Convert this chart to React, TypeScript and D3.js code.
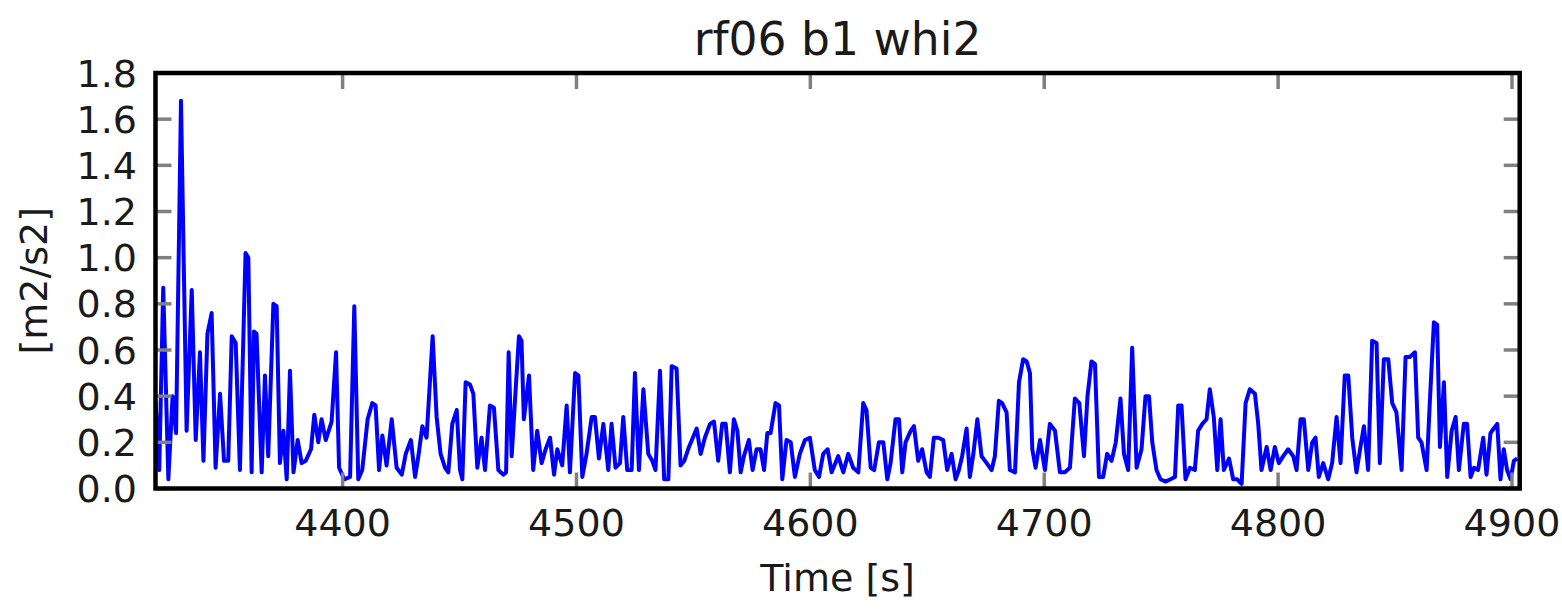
import React from "react";
import * as d3 from "d3";

const title = "rf06 b1 whi2";
const xLabel = "Time [s]";
const yLabel = "[m2/s2]";
const xDomain: [number, number] = [4320, 4903.3];
const yDomain: [number, number] = [0, 1.8];
const xTicks = [4400, 4500, 4600, 4700, 4800, 4900];
const yTicks = [0, 0.2, 0.4, 0.6, 0.8, 1.0, 1.2, 1.4, 1.6, 1.8];

const times = [
  4320, 4321.6, 4323.3, 4325.5, 4327.3, 4328.8, 4330.9, 4333.3, 4335.5, 4337.2, 4339.0, 4340.5, 4342.2, 4344.0, 4345.7, 4347.6, 4349.3, 4351.1, 4352.6, 4354.3, 4356.1, 4358.5, 4359.7, 4361.1, 4362.1, 4363.2, 4365.4, 4366.8, 4368.2, 4370.4, 4371.8, 4373.2, 4374.7, 4376.1,
  4377.5, 4379.0, 4380.8, 4382.5, 4384.2, 4386.5, 4387.9, 4389.6, 4391.0, 4392.8, 4395.3, 4397.2, 4398.5, 4400.7, 4403.2, 4405.0, 4406.7, 4408.4, 4410.7, 4412.7, 4414.1, 4415.6, 4417.0, 4418.8, 4421.0, 4423.1, 4425.3, 4427.0, 4429.2, 4431.0, 4432.4, 4434.1,
  4435.9, 4438.5, 4440.2, 4441.9, 4443.8, 4445.2, 4446.9, 4448.8, 4450.2, 4451.2, 4452.6, 4454.5, 4455.9, 4457.6, 4459.4, 4460.9, 4463.0, 4464.7, 4466.6, 4468.7, 4469.9, 4471.0, 4472.3, 4473.7, 4475.4, 4476.5, 4477.5, 4479.7, 4481.5, 4483.2, 4485.1, 4486.8, 4488.7, 4490.4, 4491.8,
  4493.9, 4495.8, 4497.2, 4499.4, 4500.8, 4502.5, 4504.3, 4506.5, 4507.9, 4509.6, 4511.5, 4513.6, 4515.0, 4516.7, 4518.6, 4520.0, 4521.7, 4523.6, 4525.0, 4526.7, 4528.6, 4530.7, 4532.4, 4533.8, 4535.7, 4537.5, 4539.3, 4540.7, 4542.8, 4544.5, 4546.1, 4548.1,
  4551.4, 4553.1, 4554.9, 4557.1, 4558.8, 4560.6, 4562.3, 4563.8, 4565.6, 4567.3, 4568.8, 4570.2, 4571.6, 4573.7, 4575.3, 4577.0, 4578.7, 4580.2, 4581.6, 4583.0, 4585.1, 4586.6, 4588.0, 4589.8, 4591.6, 4593.4, 4595.5, 4597.7, 4599.8, 4601.9, 4603.7, 4605.5,
  4607.4, 4609.1, 4611.9, 4614.1, 4616.2, 4618.3, 4620.5, 4622.6, 4624.0, 4625.8, 4627.3, 4629.3, 4631.2, 4632.9, 4634.3, 4636.4, 4637.9, 4639.3, 4640.7, 4642.9, 4644.3, 4646.1, 4647.8, 4649.7, 4651.1, 4652.8, 4654.7, 4656.8, 4658.5, 4660.4, 4662.1, 4663.5, 4664.9,
  4666.8, 4668.2, 4669.7, 4671.4, 4673.2, 4675.4, 4677.5, 4678.9, 4680.6, 4682.0, 4683.9, 4685.3, 4687.5, 4689.2, 4691.0, 4692.5, 4693.9, 4694.9, 4696.3, 4698.2, 4700.3, 4702.4, 4704.6, 4706.7, 4708.8, 4711.0, 4713.1, 4715.0, 4717.0, 4718.5, 4720.2, 4721.7,
  4723.4, 4725.2, 4726.9, 4728.8, 4730.6, 4732.6, 4734.1, 4735.9, 4737.6, 4739.5, 4741.6, 4743.3, 4744.8, 4746.2, 4748.0, 4749.7, 4751.9, 4754.0, 4755.9, 4757.3, 4758.7, 4760.4, 4762.3, 4764.4, 4765.8, 4767.6, 4769.4, 4770.8, 4772.5, 4774.0, 4775.4, 4776.8, 4779.0, 4780.8,
  4782.5, 4784.4, 4786.1, 4787.9, 4790.1, 4791.5, 4792.9, 4795.1, 4796.8, 4798.6, 4800.3, 4802.2, 4804.3, 4806.5, 4807.9, 4809.6, 4811.0, 4812.9, 4814.6, 4816.0, 4817.4, 4819.3, 4821.4, 4823.1, 4825.0, 4826.7, 4828.5, 4830.0, 4831.7, 4833.5, 4835.2, 4836.7,
  4838.5, 4840.2, 4842.1, 4843.5, 4845.2, 4847.1, 4848.8, 4850.6, 4852.8, 4854.5, 4856.3, 4858.5, 4859.9, 4861.3, 4863.5, 4864.9, 4866.6, 4868.0, 4869.2, 4870.9, 4872.3, 4874.2, 4875.9, 4877.3, 4879.4, 4880.8, 4882.3, 4883.8, 4885.5, 4887.7, 4889.1, 4890.8, 4892.2, 4893.7, 4895.1, 4896.5, 4897.9, 4899.4, 4900.8, 4902.2,
];

const whi2 = [
  0.38, 0.08, 0.87, 0.04, 0.40, 0.24, 1.68, 0.25, 0.86, 0.21, 0.59, 0.12, 0.67, 0.76, 0.09, 0.41, 0.12, 0.12, 0.66, 0.63, 0.08, 1.02, 1.00, 0.07, 0.68, 0.67, 0.07, 0.49, 0.14, 0.80, 0.79, 0.11, 0.25, 0.04,
  0.51, 0.07, 0.21, 0.11, 0.12, 0.17, 0.32, 0.20, 0.30, 0.21, 0.29, 0.59, 0.09, 0.04, 0.05, 0.79, 0.04, 0.08, 0.30, 0.37, 0.36, 0.08, 0.23, 0.10, 0.30, 0.09, 0.06, 0.15, 0.21, 0.05, 0.14, 0.27,
  0.22, 0.66, 0.31, 0.15, 0.09, 0.07, 0.28, 0.34, 0.08, 0.04, 0.46, 0.45, 0.41, 0.09, 0.22, 0.08, 0.36, 0.35, 0.08, 0.06, 0.07, 0.59, 0.14, 0.38, 0.66, 0.64, 0.30, 0.49, 0.08, 0.25, 0.11, 0.17, 0.22, 0.06, 0.17,
  0.10, 0.36, 0.07, 0.50, 0.49, 0.05, 0.15, 0.31, 0.31, 0.13, 0.28, 0.08, 0.28, 0.09, 0.11, 0.31, 0.08, 0.08, 0.50, 0.08, 0.43, 0.15, 0.12, 0.08, 0.51, 0.04, 0.04, 0.53, 0.52, 0.10, 0.12, 0.18,
  0.26, 0.15, 0.22, 0.28, 0.29, 0.12, 0.28, 0.28, 0.07, 0.30, 0.25, 0.07, 0.14, 0.21, 0.08, 0.17, 0.17, 0.08, 0.24, 0.24, 0.37, 0.36, 0.04, 0.21, 0.20, 0.05, 0.15, 0.21, 0.22, 0.08, 0.05, 0.15,
  0.17, 0.07, 0.14, 0.07, 0.15, 0.09, 0.07, 0.37, 0.34, 0.09, 0.08, 0.20, 0.20, 0.04, 0.11, 0.30, 0.30, 0.07, 0.20, 0.25, 0.27, 0.12, 0.17, 0.07, 0.05, 0.22, 0.22, 0.21, 0.08, 0.15, 0.04, 0.08, 0.14,
  0.26, 0.05, 0.15, 0.30, 0.14, 0.11, 0.08, 0.14, 0.38, 0.37, 0.33, 0.08, 0.07, 0.46, 0.56, 0.55, 0.50, 0.17, 0.09, 0.21, 0.08, 0.28, 0.25, 0.07, 0.07, 0.09, 0.39, 0.37, 0.14, 0.40, 0.55, 0.54,
  0.05, 0.05, 0.15, 0.12, 0.20, 0.39, 0.15, 0.08, 0.61, 0.09, 0.17, 0.40, 0.40, 0.20, 0.08, 0.04, 0.03, 0.04, 0.05, 0.36, 0.36, 0.04, 0.09, 0.08, 0.25, 0.28, 0.30, 0.43, 0.31, 0.08, 0.30, 0.08, 0.13, 0.04,
  0.04, 0.02, 0.37, 0.43, 0.41, 0.28, 0.08, 0.18, 0.08, 0.18, 0.11, 0.14, 0.17, 0.14, 0.08, 0.30, 0.30, 0.08, 0.20, 0.22, 0.05, 0.11, 0.04, 0.11, 0.31, 0.11, 0.49, 0.49, 0.22, 0.07, 0.18, 0.27,
  0.08, 0.64, 0.63, 0.11, 0.56, 0.56, 0.37, 0.33, 0.08, 0.57, 0.57, 0.59, 0.22, 0.20, 0.08, 0.38, 0.72, 0.71, 0.18, 0.46, 0.05, 0.25, 0.31, 0.08, 0.28, 0.28, 0.05, 0.09, 0.08, 0.22, 0.06, 0.24, 0.26, 0.28, 0.04, 0.17, 0.08, 0.04, 0.12, 0.13,
];

const W = 1562;
const H = 610;
const L = 155.5;
const R = 1519.7;
const T = 73;
const B = 488.5;
const FONT = "'DejaVu Sans', sans-serif";

export default function App() {
  const x = d3.scaleLinear().domain(xDomain).range([L, R]);
  const y = d3.scaleLinear().domain(yDomain).range([B, T]);
  const pts = times.map((t, i) => [t, whi2[i]] as [number, number]);
  const line = d3
    .line<[number, number]>()
    .x((d) => x(d[0]))
    .y((d) => y(d[1]));
  const tickLen = 16;
  const tickColor = "#808080";
  const fmtY = d3.format(".1f");

  return (
    <svg
      width={W}
      height={H}
      style={{ position: "absolute", left: 0, top: 0, background: "#fff" }}
      fontFamily={FONT}
    >
      <defs>
        <clipPath id="plotclip">
          <rect x={L} y={T} width={R - L} height={B - T} />
        </clipPath>
      </defs>
      <rect x={0} y={0} width={W} height={H} fill="#fff" />
      <path
        d={line(pts) || ""}
        fill="none"
        stroke="#0000ff"
        strokeWidth={4}
        strokeLinejoin="round"
        clipPath="url(#plotclip)"
      />
      {/* ticks */}
      {yTicks.map((v) => (
        <g key={"yt" + v}>
          <line x1={L} x2={L + tickLen} y1={y(v)} y2={y(v)} stroke={tickColor} strokeWidth={3.5} />
          <line x1={R} x2={R - tickLen} y1={y(v)} y2={y(v)} stroke={tickColor} strokeWidth={3.5} />
          <text x={137} y={y(v) + 13.5} textAnchor="end" fontSize={38} fill="#1a1a1a">
            {fmtY(v)}
          </text>
        </g>
      ))}
      {xTicks.map((v) => (
        <g key={"xt" + v}>
          <line x1={x(v)} x2={x(v)} y1={B} y2={B - tickLen} stroke={tickColor} strokeWidth={3.5} />
          <line x1={x(v)} x2={x(v)} y1={T} y2={T + tickLen} stroke={tickColor} strokeWidth={3.5} />
          <text x={x(v)} y={536} textAnchor="middle" fontSize={38} fill="#1a1a1a">
            {v}
          </text>
        </g>
      ))}
      <rect x={L} y={T} width={R - L} height={B - T} fill="none" stroke="#000" strokeWidth={4.5} />
      <text x={(L + R) / 2} y={55} textAnchor="middle" fontSize={45.6} fill="#1a1a1a">
        {title}
      </text>
      <text x={(L + R) / 2} y={591} textAnchor="middle" fontSize={38} fill="#1a1a1a">
        {xLabel}
      </text>
      <text
        transform={`translate(47, ${(T + B) / 2}) rotate(-90)`}
        textAnchor="middle"
        fontSize={38}
        fill="#1a1a1a"
      >
        {yLabel}
      </text>
    </svg>
  );
}
